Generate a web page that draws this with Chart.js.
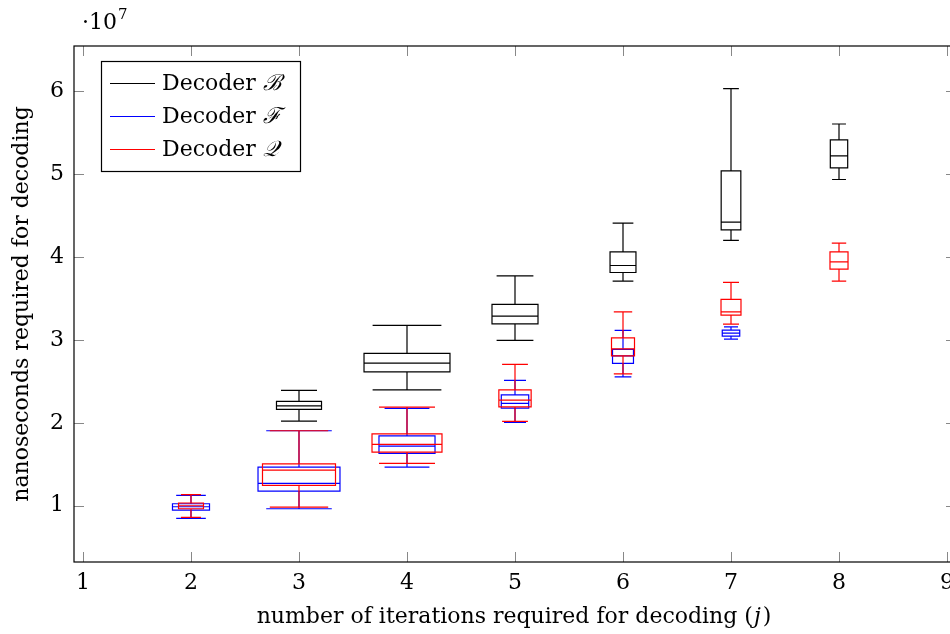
<!DOCTYPE html>
<html lang="en">

<head>
    <title>Decoding time</title>
    <meta charset="utf-8">
    <script src="https://cdn.jsdelivr.net/npm/chart.js"></script>
    <style>
        html, body { margin: 0; padding: 0; overflow: hidden; background: #fff; }
        #wrap { width: 966px; height: 634px; }
    </style>
</head>

<body>
    <div id="wrap"><canvas id="decodeChart"></canvas></div>

    <script>
        // values in units of 10^7 ns: [lower whisker, q1, median, q3, upper whisker]
        const xTicks = [1, 2, 3, 4, 5, 6, 7, 8, 9];
        const yTicks = [1, 2, 3, 4, 5, 6];

        const iterB = [3, 4, 5, 6, 7, 8];
        const statsB = [
            [2.020, 2.161, 2.205, 2.258, 2.390],
            [2.398, 2.614, 2.719, 2.836, 3.174],
            [2.993, 3.193, 3.286, 3.427, 3.771],
            [3.707, 3.812, 3.896, 4.060, 4.406],
            [4.198, 4.325, 4.418, 5.036, 6.029],
            [4.933, 5.072, 5.217, 5.410, 5.602]
        ];
        const extentB = [0.417, 0.796, 0.426, 0.240, 0.182, 0.161];

        const iterF = [2, 3, 4, 5, 6, 7];
        const statsF = [
            [0.848, 0.948, 0.988, 1.024, 1.125],
            [0.964, 1.177, 1.270, 1.466, 1.904],
            [1.466, 1.631, 1.719, 1.843, 2.173],
            [2.005, 2.177, 2.234, 2.337, 2.511],
            [2.554, 2.716, 2.807, 2.884, 3.113],
            [3.009, 3.045, 3.081, 3.117, 3.157]
        ];
        const extentF = [0.343, 0.759, 0.519, 0.254, 0.194, 0.162];

        const iterQ = [2, 3, 4, 5, 6, 7, 8];
        const statsQ = [
            [0.860, 0.964, 1.000, 1.033, 1.133],
            [0.984, 1.246, 1.430, 1.506, 1.904],
            [1.511, 1.647, 1.740, 1.867, 2.189],
            [2.017, 2.193, 2.273, 2.398, 2.704],
            [2.590, 2.807, 2.892, 3.024, 3.337],
            [3.189, 3.298, 3.337, 3.487, 3.692],
            [3.707, 3.852, 3.940, 4.060, 4.165]
        ];
        const extentQ = [0.231, 0.676, 0.648, 0.299, 0.213, 0.185, 0.167];

        const FONT = "'DejaVu Serif', 'Liberation Serif', serif";
        const FS = 22;

        const makeSet = (label, color, iters, stats, extent) => ({
            label: label,
            borderColor: color,
            backgroundColor: color,
            data: iters.map((j, i) => ({ x: j, y: stats[i][2] })),
            stats: stats,
            extent: extent,
            pointRadius: 0,
            showLine: false
        });

        // draws each box (q1..q3, median, whiskers with caps) through the chart scales
        const boxPlot = {
            id: 'boxPlot',
            afterDatasetsDraw(chart) {
                const { ctx, chartArea: a, scales: { x, y } } = chart;
                ctx.save();
                ctx.beginPath();
                ctx.rect(a.left, a.top, a.right - a.left, a.bottom - a.top);
                ctx.clip();
                ctx.lineWidth = 1.2;
                chart.data.datasets.forEach(ds => {
                    ctx.strokeStyle = ds.borderColor;
                    ds.stats.forEach((s, i) => {
                        const cx = x.getPixelForValue(ds.data[i].x);
                        const half = (x.getPixelForValue(ds.extent[i]) - x.getPixelForValue(0)) / 2;
                        const cap = half * 0.8;
                        const [lo, q1, med, q3, hi] = s.map(v => y.getPixelForValue(v));
                        ctx.beginPath();
                        ctx.rect(cx - half, q3, half * 2, q1 - q3);
                        ctx.moveTo(cx - half, med); ctx.lineTo(cx + half, med);
                        ctx.moveTo(cx, q3); ctx.lineTo(cx, hi);
                        ctx.moveTo(cx - cap, hi); ctx.lineTo(cx + cap, hi);
                        ctx.moveTo(cx, q1); ctx.lineTo(cx, lo);
                        ctx.moveTo(cx - cap, lo); ctx.lineTo(cx + cap, lo);
                        ctx.stroke();
                    });
                });
                ctx.restore();
            }
        };

        // frame, inward ticks, titles, legend and the 10^7 factor
        const frame = {
            id: 'frame',
            afterDraw(chart) {
                const { ctx, chartArea: a, scales: { x, y } } = chart;
                ctx.save();
                ctx.strokeStyle = '#888';
                ctx.lineWidth = 1;
                ctx.beginPath();
                xTicks.forEach(v => {
                    const px = Math.round(x.getPixelForValue(v)) + 0.5;
                    ctx.moveTo(px, a.bottom); ctx.lineTo(px, a.bottom - 10);
                    ctx.moveTo(px, a.top); ctx.lineTo(px, a.top + 10);
                });
                yTicks.forEach(v => {
                    const py = Math.round(y.getPixelForValue(v)) + 0.5;
                    ctx.moveTo(a.left, py); ctx.lineTo(a.left + 10, py);
                    ctx.moveTo(a.right, py); ctx.lineTo(a.right - 10, py);
                });
                ctx.stroke();

                ctx.strokeStyle = '#000';
                ctx.lineWidth = 1.2;
                ctx.strokeRect(a.left, a.top, a.right - a.left, a.bottom - a.top);

                // axis titles
                ctx.fillStyle = '#000';
                ctx.textBaseline = 'middle';
                const t1 = 'number of iterations required for decoding (';
                const t2 = 'j';
                const t3 = ')';
                ctx.font = FS + 'px ' + FONT;
                const w1 = ctx.measureText(t1).width, w3 = ctx.measureText(t3).width;
                ctx.font = 'italic ' + FS + 'px ' + FONT;
                const w2 = ctx.measureText(t2).width + 3;
                let sx = 514 - (w1 + w2 + w3) / 2;
                ctx.textAlign = 'left';
                ctx.font = FS + 'px ' + FONT;
                ctx.fillText(t1, sx, 617);
                ctx.font = 'italic ' + FS + 'px ' + FONT;
                ctx.fillText(t2, sx + w1 + 1, 617);
                ctx.font = FS + 'px ' + FONT;
                ctx.fillText(t3, sx + w1 + w2, 617);

                ctx.save();
                ctx.translate(22, (a.top + a.bottom) / 2);
                ctx.rotate(-Math.PI / 2);
                ctx.textAlign = 'center';
                ctx.fillText('nanoseconds required for decoding', 0, 0);
                ctx.restore();

                // scale factor
                ctx.textAlign = 'left';
                ctx.textBaseline = 'alphabetic';
                ctx.font = FS + 'px ' + FONT;
                ctx.fillText('\u00b710', 82, 29);
                ctx.font = '15px ' + FONT;
                ctx.fillText('7', 118, 19);

                // legend
                const lx = 101.5, ly = 61.5, lw = 199, lh = 110;
                ctx.fillStyle = '#fff';
                ctx.fillRect(lx, ly, lw, lh);
                ctx.strokeStyle = '#000';
                ctx.lineWidth = 1.2;
                ctx.strokeRect(lx, ly, lw, lh);
                const letters = ['\u212C', '\u2131', '\uD835\uDCAC'];
                chart.data.datasets.forEach((ds, i) => {
                    const ry = 83 + i * 33;
                    ctx.strokeStyle = ds.borderColor;
                    ctx.lineWidth = 1.2;
                    ctx.beginPath();
                    ctx.moveTo(110, ry + 0.5); ctx.lineTo(155, ry + 0.5);
                    ctx.stroke();
                    ctx.fillStyle = '#000';
                    ctx.textBaseline = 'middle';
                    ctx.font = FS + 'px ' + FONT;
                    const word = 'Decoder ';
                    ctx.fillText(word, 162, ry + 1);
                    const ww = ctx.measureText(word).width;
                    ctx.font = 'italic ' + FS + 'px ' + FONT;
                    ctx.fillText(letters[i], 162 + ww, ry + 1);
                });
                ctx.restore();
            }
        };

        const ctx = document.getElementById('decodeChart').getContext('2d');
        const decodeChart = new Chart(ctx, {
            type: 'scatter',
            data: {
                datasets: [
                    makeSet('Decoder B', '#000000', iterB, statsB, extentB),
                    makeSet('Decoder F', '#0000ff', iterF, statsF, extentF),
                    makeSet('Decoder Q', '#ff0000', iterQ, statsQ, extentQ)
                ]
            },
            options: {
                responsive: true,
                maintainAspectRatio: false,
                animation: false,
                layout: { padding: { top: 46, right: 10, left: 0, bottom: 0 } },
                plugins: {
                    legend: { display: false },
                    tooltip: { enabled: false }
                },
                scales: {
                    x: {
                        type: 'linear',
                        min: 0.9167,
                        max: 9.0833,
                        afterFit: s => { s.height = 72; },
                        afterBuildTicks: s => { s.ticks = xTicks.map(v => ({ value: v })); },
                        grid: { display: false, drawTicks: false },
                        border: { display: false },
                        ticks: {
                            padding: 8,
                            color: '#000',
                            font: { family: FONT, size: FS },
                            maxRotation: 0
                        }
                    },
                    y: {
                        type: 'linear',
                        min: 0.322,
                        max: 6.542,
                        afterFit: s => { s.width = 74; },
                        afterBuildTicks: s => { s.ticks = yTicks.map(v => ({ value: v })); },
                        grid: { display: false, drawTicks: false },
                        border: { display: false },
                        ticks: {
                            padding: 10,
                            color: '#000',
                            font: { family: FONT, size: FS }
                        }
                    }
                }
            },
            plugins: [boxPlot, frame]
        });
    </script>
</body>

</html>
